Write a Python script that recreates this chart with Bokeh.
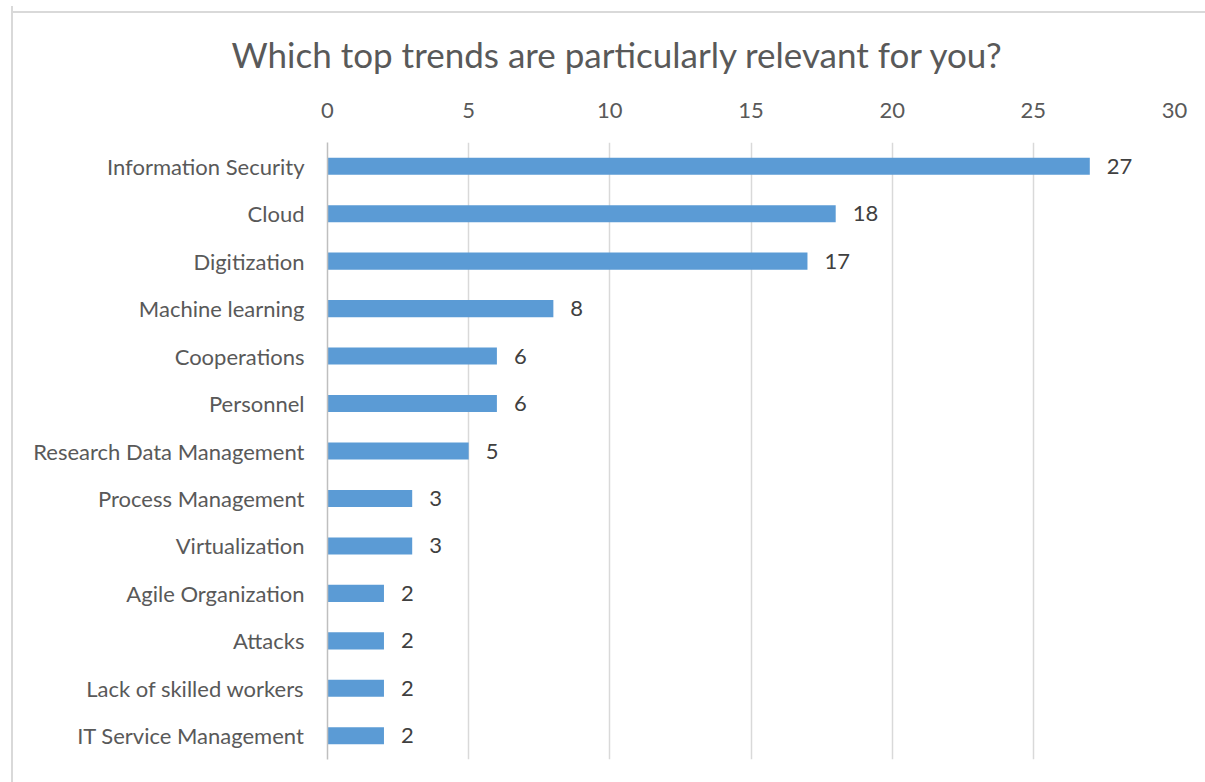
from bokeh.plotting import figure
from bokeh.models import ColumnDataSource, FactorRange, Range1d, Title, FixedTicker
from bokeh.core.properties import value
from bokeh.embed import file_html
from bokeh.resources import INLINE

categories = ["Information Security", "Cloud", "Digitization", "Machine learning",
              "Cooperations", "Personnel", "Research Data Management",
              "Process Management", "Virtualization", "Agile Organization",
              "Attacks", "Lack of skilled workers", "IT Service Management"]
counts = [27, 18, 17, 8, 6, 6, 5, 3, 3, 2, 2, 2, 2]
ticks = [0, 5, 10, 15, 20, 25, 30]
title_text = "Which top trends are particularly relevant for you?"

FONT = "Lato"
GRAY = "#595959"

src = ColumnDataSource(dict(cat=categories, val=counts, lab=[str(c) for c in counts]))

p = figure(width=1194, height=776, output_backend="svg", toolbar_location=None,
           y_range=FactorRange(*categories[::-1], range_padding=0),
           x_range=Range1d(0, 30), x_axis_location="above",
           min_border_left=314, min_border_right=33, min_border_top=136,
           min_border_bottom=23)
p.styles = {"margin-left": "11px", "margin-top": "6px",
            "border-left": "2px solid #d9d9d9",
            "background": "linear-gradient(#d9d9d9, #d9d9d9) 0 5px / 100% 2px no-repeat, #ffffff"}

p.hbar(y="cat", right="val", left=0, height=0.36, source=src,
       fill_color="#5B9BD5", line_color=None)
p.text(x="val", y="cat", text="lab", source=src, x_offset=17,
       text_baseline="middle", text_align="left", text_color="#404040",
       text_font=value(FONT), text_font_size="22px")

p.title = Title(text=title_text, text_font=FONT, text_font_size="35px",
                text_font_style="normal", text_color=GRAY, align="left",
                offset=-96, standoff=49)

xa = p.xaxis[0]
xa.ticker = FixedTicker(ticks=ticks)
xa.axis_line_color = None
xa.major_tick_line_color = None
xa.minor_tick_line_color = None
xa.major_label_text_font = FONT
xa.major_label_text_font_size = "22px"
xa.major_label_text_color = GRAY
xa.major_label_standoff = 19

ya = p.yaxis[0]
ya.axis_line_color = "#bfbfbf"
ya.axis_line_width = 1.5
ya.major_tick_line_color = None
ya.minor_tick_line_color = None
ya.major_label_text_font = FONT
ya.major_label_text_font_size = "22px"
ya.major_label_text_color = GRAY
ya.major_label_standoff = 17

p.xgrid.grid_line_color = "#d9d9d9"
p.xgrid.grid_line_width = 1.5
p.ygrid.grid_line_color = None
p.outline_line_color = None
p.background_fill_color = "white"
p.border_fill_color = None

open("out.html", "w").write(file_html(p, INLINE))
